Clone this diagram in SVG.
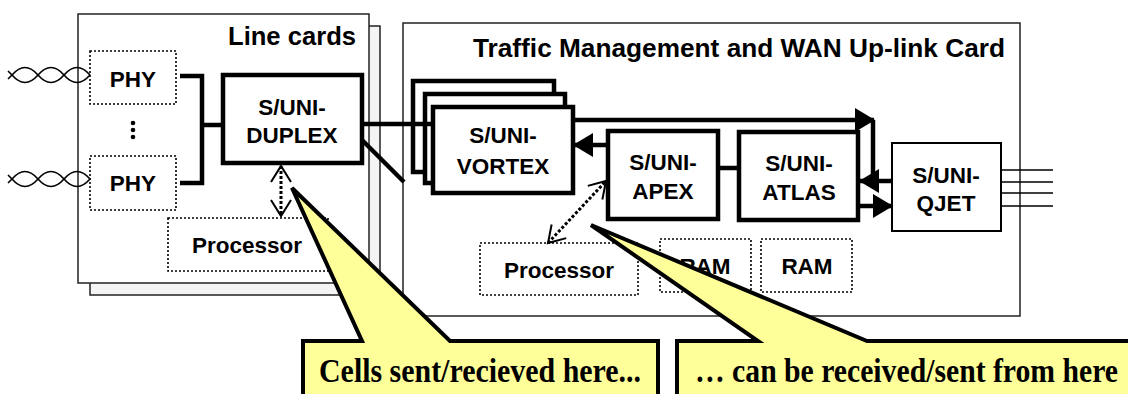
<svg xmlns="http://www.w3.org/2000/svg" width="1128" height="394" viewBox="0 0 1128 394">
<style>
.card{fill:#fff;stroke:#222;stroke-width:1.5}
.back{fill:#f4f4f4;stroke:#222;stroke-width:1.5}
.chip{fill:#fff;stroke:#000;stroke-width:4.5}
.thin{fill:#fff;stroke:#000;stroke-width:2}
.dot{fill:#fff;stroke:#000;stroke-width:1.6;stroke-dasharray:2 2}
.lbl{font-family:"Liberation Sans",Arial,sans-serif;font-weight:bold;font-size:22.5px;fill:#000;text-anchor:middle}
.title{font-family:"Liberation Sans",Arial,sans-serif;font-weight:bold;font-size:25px;fill:#000}
.conn{stroke:#000;stroke-width:4.5;fill:none}
.dash{stroke:#000;stroke-width:3;stroke-dasharray:3 2;fill:none}
.wire{stroke:#000;stroke-width:1.6;fill:none}
.call{fill:#ffff99;stroke:#000;stroke-width:4;stroke-linejoin:miter}
.ctext{font-family:"Liberation Serif","Times New Roman",serif;font-weight:bold;font-size:33px;fill:#000}
</style>
<defs>
<marker id="arr" markerUnits="userSpaceOnUse" markerWidth="20" markerHeight="24" refX="19" refY="12" orient="auto">
<path d="M0,0 L20,12 L0,24 Z" fill="#000"/>
</marker>
<marker id="open" markerUnits="userSpaceOnUse" markerWidth="18" markerHeight="20" refX="16" refY="10" orient="auto-start-reverse" overflow="visible">
<path d="M0,0 L16,10 L0,20" fill="none" stroke="#000" stroke-width="2" stroke-dasharray="none"/>
</marker>
</defs>

<g id="line-cards">
<rect class="back" x="90" y="26" width="290" height="269"/>
<rect class="card" x="78" y="14" width="291" height="269"/>
<text class="title" x="356" y="45" text-anchor="end" textLength="128" lengthAdjust="spacingAndGlyphs">Line cards</text>
</g>

<g id="wan-card">
<rect class="card" x="403" y="23" width="617" height="293"/>
<text class="title" x="473" y="57" font-size="27" textLength="532" lengthAdjust="spacingAndGlyphs">Traffic Management and WAN Up-link Card</text>
</g>

<g id="phy-top">
<rect class="dot" x="90" y="51" width="86" height="53"/>
<text class="lbl" x="133" y="87">PHY</text>
</g>
<g id="phy-dots">
<circle cx="133" cy="123" r="2.3"/><circle cx="133" cy="130" r="2.3"/><circle cx="133" cy="137" r="2.3"/>
</g>
<g id="phy-bottom">
<rect class="dot" x="90" y="156" width="86" height="54"/>
<text class="lbl" x="133" y="191">PHY</text>
</g>
<g id="duplex">
<rect class="chip" x="223" y="75" width="139" height="88"/>
<text class="lbl" x="292" y="115">S/UNI-</text>
<text class="lbl" x="292" y="143">DUPLEX</text>
</g>
<g id="lc-processor">
<rect class="dot" x="168" y="218" width="160" height="53"/>
<text class="lbl" x="247" y="253">Processor</text>
</g>

<g id="vortex">
<rect class="chip" x="413" y="81" width="141" height="91"/>
<rect class="chip" x="425" y="94" width="140" height="89"/>
<rect class="chip" x="433" y="107" width="140" height="86"/>
<text class="lbl" x="503" y="143">S/UNI-</text>
<text class="lbl" x="503" y="174">VORTEX</text>
</g>
<g id="apex">
<rect class="chip" x="608" y="131" width="110" height="88"/>
<text class="lbl" x="663" y="170">S/UNI-</text>
<text class="lbl" x="663" y="199">APEX</text>
</g>
<g id="atlas">
<rect class="chip" x="739" y="132" width="119" height="88"/>
<text class="lbl" x="799" y="171">S/UNI-</text>
<text class="lbl" x="799" y="200">ATLAS</text>
</g>
<g id="qjet">
<rect class="thin" x="892" y="143" width="109" height="88"/>
<text class="lbl" x="946" y="183">S/UNI-</text>
<text class="lbl" x="946" y="211">QJET</text>
</g>
<g id="wan-processor">
<rect class="dot" x="480" y="243" width="158" height="52"/>
<text class="lbl" x="559" y="278">Processor</text>
</g>
<g id="ram1">
<rect class="dot" x="660" y="239" width="91" height="53"/>
<text class="lbl" x="705" y="274">RAM</text>
</g>
<g id="ram2">
<rect class="dot" x="761" y="239" width="91" height="53"/>
<text class="lbl" x="807" y="274">RAM</text>
</g>

<g id="connectors">
<!-- twisted pairs -->
<path class="wire" d="M8,79 L12,75 C20.7,65 29.3,65 38,75 C46.7,85 55.3,85 64,75 C72.7,65 81.3,65 90,75"/>
<path class="wire" d="M8,71 L12,75 C20.7,85 29.3,85 38,75 C46.7,65 55.3,65 64,75 C72.7,85 81.3,85 90,75"/>
<path class="wire" d="M8,183 L12,179 C20.7,169 29.3,169 38,179 C46.7,189 55.3,189 64,179 C72.7,169 81.3,169 90,179"/>
<path class="wire" d="M8,175 L12,179 C20.7,189 29.3,189 38,179 C46.7,169 55.3,169 64,179 C72.7,189 81.3,189 90,179"/>
<!-- PHY bracket -->
<path class="conn" d="M180,76 H202 V183 H180 M202,125 H223"/>
<!-- DUPLEX to VORTEX -->
<path class="conn" d="M362,124 H433"/>
<path class="conn" stroke-width="3.5" d="M362,140 L404,182"/>
<!-- VORTEX top to QJET side -->
<path class="conn" d="M573,120 H874" marker-end="url(#arr)"/>
<path class="conn" d="M873,120 V182"/>
<path class="conn" d="M892,181 H860" marker-end="url(#arr)"/>
<path class="conn" d="M858,206 H892" marker-end="url(#arr)"/>
<!-- APEX to VORTEX -->
<path class="conn" d="M608,145 H574" marker-end="url(#arr)"/>
<!-- APEX to ATLAS -->
<path class="conn" d="M718,168 H739"/>
<!-- QJET outputs -->
<path class="wire" d="M1001,170 H1053 M1001,182 H1053 M1001,193 H1053 M1001,206 H1053"/>
<!-- dotted processor links -->
<path class="dash" d="M281,166 V216" marker-start="url(#open)" marker-end="url(#open)"/>
<path class="dash" d="M548,243 L606,181" marker-start="url(#open)" marker-end="url(#open)"/>
</g>

<g id="callout-1">
<path class="call" d="M303,341 L362,341 L292,188 L450,341 L658,341 L658,400 L303,400 Z"/>
<text class="ctext" x="319" y="382" textLength="322" lengthAdjust="spacingAndGlyphs">Cells sent/recieved here...</text>
</g>
<g id="callout-2">
<path class="call" d="M677,341 L758,341 L591,225 L867,341 L1135,341 L1135,400 L677,400 Z"/>
<text class="ctext" x="695" y="382" textLength="423" lengthAdjust="spacingAndGlyphs">… can be received/sent from here</text>
</g>
</svg>
